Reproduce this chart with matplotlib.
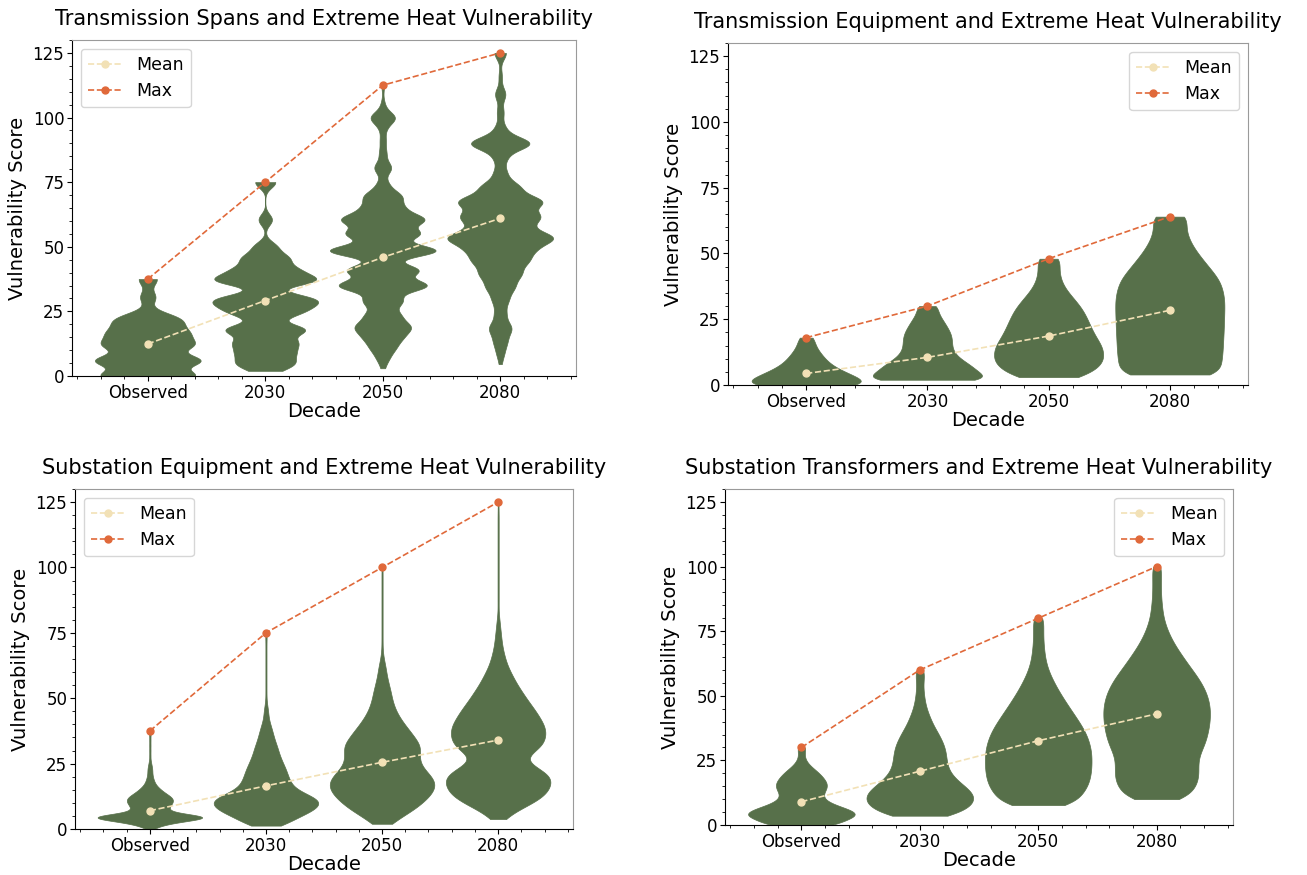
import numpy as np
import matplotlib
matplotlib.use("Agg")
import matplotlib.pyplot as plt

decades = ["Observed", "2030", "2050", "2080"]

# ---- Transmission spans: discrete score values and how many assets hold each ----
spans_scores = [
    [0, 6, 12, 16.5, 20.5, 23, 30.5, 37.5],
    [2, 5, 9, 13, 18, 24, 27, 30, 37, 41, 45.5, 50, 60.5, 75],
    [3, 7, 11, 15, 19, 23.5, 29, 35, 41, 48.5, 55, 60.5, 65, 69.5, 74, 80.5, 86, 91,
     96, 100, 105, 112.5],
    [4.6, 9, 13.5, 18.5, 24, 29.5, 34.5, 39.5, 44.5, 49, 53.5, 58, 62, 67.5, 73, 78.5,
     84.5, 90, 95.5, 102, 109, 116, 125],
]
spans_counts = [
    [150, 165, 130, 105, 65, 55, 25, 30],
    [22, 60, 60, 70, 100, 60, 70, 100, 120, 70, 55, 28, 18, 27],
    [4, 15, 30, 45, 70, 45, 55, 130, 105, 160, 105, 115, 50, 50, 15, 25, 10, 8, 8, 35, 5, 4],
    [3, 10, 18, 32, 16, 22, 38, 55, 70, 80, 140, 60, 100, 120, 55, 18, 18, 90, 15, 10, 16,
     5, 18],
]
spans_bandwidth = [2.4, 2.2, 2.3, 2.5]
spans_mean = [12.4, 29.2, 45.9, 61.0]
spans_max = [37.5, 75.0, 112.5, 125.0]

# ---- Transmission equipment ----
equipment_scores = [
    [0, 2, 4, 6, 8, 10, 12, 14, 16, 18],
    [2, 4, 6, 8, 10, 12, 14, 16, 18, 20, 22, 24, 26, 28, 30],
    [3, 6, 9, 12, 15, 18, 21, 24, 27, 30, 33, 36, 39, 42, 45, 48],
    [4, 8, 12, 16, 20, 24, 28, 32, 36, 40, 44, 48, 52, 56, 60, 64],
]
equipment_counts = [
    [140, 98, 82, 57, 42, 34, 26, 19, 14, 17],
    [140, 100, 93, 80, 62, 52, 47, 47, 47, 44, 38, 32, 25, 19, 23],
    [100, 140, 160, 160, 155, 138, 126, 116, 106, 92, 72, 52, 38, 32, 30, 38],
    [155, 152, 157, 158, 160, 161, 162, 163, 158, 148, 122, 96, 72, 55, 46, 58],
]
equipment_bandwidth = [2.0, 1.8, 2.5, 3.0]
equipment_mean = [4.4, 10.5, 18.6, 28.4]
equipment_max = [18.0, 30.0, 48.0, 64.0]

# ---- Substation equipment ----
substation_scores = [
    [0, 1, 2, 3, 4, 5, 6, 7, 8, 9, 10, 11, 12, 13, 14, 15, 16, 17, 18, 19, 20, 21, 22,
     23, 24, 25, 26, 28, 30, 32, 34, 36, 37.5],
    [1.3, 3, 5, 7, 9, 11, 13, 15, 17, 19, 21, 23, 25, 27, 29, 31, 33, 35, 37, 39, 41,
     43, 45, 47, 49, 52, 55, 58, 61, 64, 67, 70, 73, 75],
    [2, 4.5, 7, 9.5, 12, 14.5, 17, 19.5, 22, 24.5, 27, 29.5, 32, 34.5, 37, 39.5, 42,
     44.5, 47, 49.5, 52, 54.5, 57, 59.5, 62, 64.5, 67, 70, 73, 76, 79, 82, 85, 88, 91,
     94, 97, 100],
    [3.8, 6.3, 8.8, 11.3, 13.8, 16.3, 18.8, 21.3, 23.8, 26.3, 28.8, 31.3, 33.8, 36.3,
     38.8, 41.3, 43.8, 46.3, 48.8, 51.3, 53.8, 56.3, 58.8, 61.3, 63.8, 66.3, 68.8, 71.3,
     73.8, 76.3, 78.8, 81.3, 85, 88, 91, 94, 97, 100, 103, 106, 109, 112, 115, 118, 121,
     125],
]
substation_counts = [
    [8, 20, 45, 80, 150, 150, 60, 45, 45, 50, 55, 58, 55, 45, 35, 27, 20, 14, 11, 9, 7,
     6, 6, 6, 5, 3, 3, 3, 3, 3, 3, 3, 3],
    [50, 90, 130, 175, 200, 205, 160, 115, 95, 87, 80, 74, 64, 56, 48, 44, 36, 30, 25,
     20, 13, 9, 9, 5, 3, 3, 3, 3, 3, 3, 3, 3, 3, 3],
    [30, 55, 90, 115, 137, 153, 160, 152, 132, 115, 110, 113, 115, 100, 86, 70, 56, 44,
     36, 30, 27, 22, 17, 13, 11, 6, 3, 2, 2, 2, 2, 2, 2, 2, 2, 2, 2, 2],
    [22, 45, 85, 122, 145, 155, 160, 148, 110, 80, 95, 128, 138, 142, 140, 130, 118,
     105, 90, 77, 64, 52, 42, 32, 24, 19, 14, 11, 9, 7, 5, 3, 2, 2, 2, 2, 2, 2, 2, 2,
     2, 2, 2, 2, 2, 2],
]
substation_bandwidth = [1.0, 1.8, 2.2, 2.2]
substation_mean = [7.0, 16.5, 25.5, 34.0]
substation_max = [37.5, 75.0, 100.0, 125.0]

# ---- Substation transformers ----
transformer_scores = [
    [0, 2, 4, 6, 8, 10, 12, 14, 16, 18, 20, 22, 24, 26, 28, 30],
    [3.6, 6, 8.5, 11, 13.5, 16, 18.5, 21, 23.5, 26, 28.5, 31, 33.5, 36, 38.5, 41, 43.5,
     46, 48.5, 51, 53.5, 56, 58, 60],
    [7.7, 10, 12.5, 15, 17.5, 20, 22.5, 25, 27.5, 30, 32.5, 35, 37.5, 40, 42.5, 45,
     47.5, 50, 52.5, 55, 57.5, 60, 62.5, 65, 67.5, 70, 72.5, 75, 77.5, 80],
    [10, 12.5, 15, 17.5, 20, 22.5, 25, 27.5, 30, 32.5, 35, 37.5, 40, 42.5, 45, 47.5,
     50, 52.5, 55, 57.5, 60, 62.5, 65, 67.5, 70, 72.5, 75, 77.5, 80, 82.5, 85, 87.5,
     90, 92.5, 95, 97.5, 100],
]
transformer_counts = [
    [100, 120, 165, 135, 85, 60, 58, 70, 72, 62, 50, 32, 16, 9, 8, 14],
    [90, 135, 158, 162, 148, 122, 100, 86, 80, 78, 76, 71, 62, 52, 40, 32, 24, 18, 14,
     12, 10, 10, 10, 12],
    [95, 115, 135, 146, 153, 156, 158, 158, 158, 155, 150, 143, 133, 121, 108, 95, 82,
     70, 58, 48, 38, 30, 24, 20, 18, 16, 15, 15, 15, 18],
    [85, 105, 118, 125, 127, 125, 125, 130, 140, 148, 153, 157, 160, 161, 161, 158, 153,
     145, 135, 122, 108, 93, 80, 66, 54, 43, 34, 27, 21, 18, 16, 14, 13, 13, 13, 13, 16],
]
transformer_bandwidth = [1.6, 2.2, 2.5, 2.5]
transformer_mean = [9.0, 20.8, 32.6, 43.0]
transformer_max = [30.0, 60.0, 80.0, 100.0]

VIOLIN_COLOR = "#57704a"
MEAN_COLOR = "#f2e1b6"
MAX_COLOR = "#e0693a"


def draw_panel(ax, title, scores, counts, bandwidths, means, maxima, legend_loc):
    for pos, (s, c, h) in enumerate(zip(scores, counts, bandwidths)):
        sample = np.repeat(np.asarray(s, dtype=float), c)
        parts = ax.violinplot(
            [sample], positions=[pos], widths=0.9, showextrema=False, points=400,
            bw_method=lambda kde, h=h: h / kde.dataset.std(ddof=1),
        )
        for body in parts["bodies"]:
            body.set_facecolor(VIOLIN_COLOR)
            body.set_edgecolor(VIOLIN_COLOR)
            body.set_linewidth(0.5)
            body.set_alpha(1)

    x = np.arange(len(decades))
    ax.plot(x, means, ls="--", marker="o", color=MEAN_COLOR, lw=1.2, ms=5,
            label="Mean", zorder=3)
    ax.plot(x, maxima, ls="--", marker="o", color=MAX_COLOR, lw=1.2, ms=5,
            label="Max", zorder=3)

    ax.set_xticks(x, decades)
    ax.set_xlim(-0.645, 3.645)
    ax.set_ylim(0, 130)
    ax.set_yticks([0, 25, 50, 75, 100, 125])
    ax.minorticks_on()
    ax.tick_params(axis="both", which="major", labelsize=12, pad=2)
    ax.set_title(title, fontsize=15, pad=11)
    ax.set_xlabel("Decade", fontsize=14, labelpad=0)
    ax.set_ylabel("Vulnerability Score", fontsize=14)
    for side in ("top", "right"):
        ax.spines[side].set_color("#9a9a9a")
    ax.legend(loc=legend_loc, fontsize=12.5)


fig = plt.figure(figsize=(13.07, 8.75), dpi=100)

panels = [
    ("Transmission Spans and Extreme Heat Vulnerability", spans_scores, spans_counts,
     spans_bandwidth, spans_mean, spans_max, "upper left",
     [72 / 1307, 1 - 376 / 875, 504 / 1307, 336 / 875]),
    ("Transmission Equipment and Extreme Heat Vulnerability", equipment_scores,
     equipment_counts, equipment_bandwidth, equipment_mean, equipment_max, "upper right",
     [728 / 1307, 1 - 385 / 875, 520 / 1307, 342 / 875]),
    ("Substation Equipment and Extreme Heat Vulnerability", substation_scores,
     substation_counts, substation_bandwidth, substation_mean, substation_max, "upper left",
     [75 / 1307, 1 - 829 / 875, 498 / 1307, 340 / 875]),
    ("Substation Transformers and Extreme Heat Vulnerability", transformer_scores,
     transformer_counts, transformer_bandwidth, transformer_mean, transformer_max,
     "upper right", [725 / 1307, 1 - 825 / 875, 508 / 1307, 336 / 875]),
]

for title, sc, ct, bw, mn, mx, loc, rect in panels:
    ax = fig.add_axes(rect)
    draw_panel(ax, title, sc, ct, bw, mn, mx, loc)

fig.savefig("out.png", dpi=100)
